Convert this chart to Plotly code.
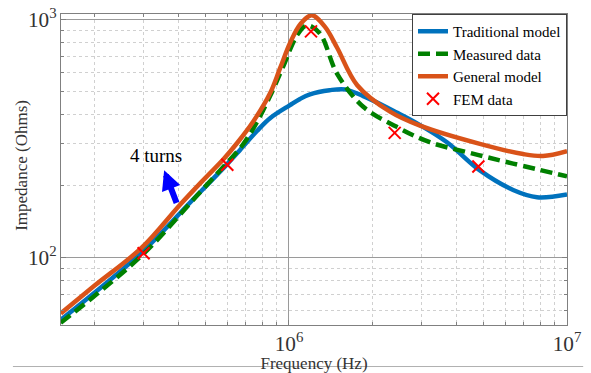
import plotly.graph_objects as go

# Data
trad_f = [1.51e5, 2.96e5, 4.41e5, 5.98e5, 6.67e5, 7.67e5, 8.55e5, 1.008e6, 1.096e6, 1.19e6, 1.40e6, 1.59e6, 1.85e6, 2.44e6, 2.88e6, 3.70e6, 4.86e6, 6.4e6, 7.8e6, 1.0e7]
trad_z = [54.5, 105, 170, 246, 283, 340, 385, 437, 464, 485, 505, 509, 477, 407, 367, 305, 232, 192, 179, 184]

meas_f = [1.51e5, 2.96e5, 4.67e5, 5.80e5, 6.84e5, 7.67e5, 8.55e5, 9.51e5, 1.07e6, 1.16e6, 1.29e6, 1.49e6, 1.85e6, 2.44e6, 3.21e6, 4.48e6, 6.4e6, 1.0e7]
meas_z = [53, 102, 182, 240, 299, 371, 477, 632, 861, 946, 877, 592, 430, 354, 305, 275, 248, 219]

gen_f = [1.51e5, 2.0e5, 2.96e5, 4.05e5, 4.91e5, 5.80e5, 6.50e5, 7.43e5, 8.55e5, 9.29e5, 1.01e6, 1.10e6, 1.21e6, 1.35e6, 1.49e6, 1.76e6, 2.31e6, 2.96e6, 4.86e6, 6.95e6, 8.2e6, 1.0e7]
gen_z = [58, 76, 110, 166, 211, 258, 302, 372, 490, 625, 800, 960, 1045, 930, 762, 530, 410, 358, 300, 272, 267, 280]

fem_f = [3e5, 6e5, 1.2e6, 2.4e6, 4.8e6]
fem_z = [104, 245, 893, 334, 241]

FONT = "Liberation Serif, Times New Roman, serif"

fig = go.Figure()
fig.add_trace(go.Scatter(x=trad_f, y=trad_z, mode="lines", name="Traditional model",
                         line=dict(color="#0072BD", width=4.5, shape="spline", smoothing=1.0)))
fig.add_trace(go.Scatter(x=meas_f, y=meas_z, mode="lines", name="Measured data",
                         line=dict(color="#008000", width=4.5, dash="12px,6px", shape="spline", smoothing=1.0)))
fig.add_trace(go.Scatter(x=gen_f, y=gen_z, mode="lines", name="General model",
                         line=dict(color="#D95319", width=4.5, shape="spline", smoothing=1.0)))
fig.add_trace(go.Scatter(x=fem_f, y=fem_z, mode="markers", name="FEM data",
                         marker=dict(symbol="x-thin", size=12, line=dict(color="#FF0000", width=2), color="#FF0000")))

axis_common = dict(
    type="log", showline=True, linecolor="#808080", linewidth=1, mirror="ticks",
    ticks="inside", ticklen=5, tickcolor="#808080",
    showgrid=True, gridcolor="#9a9a9a", gridwidth=1,
    dtick=1, exponentformat="power", showexponent="all",
    tickfont=dict(family=FONT, size=17, color="#333333"),
    ticklabeloverflow="allow",
    zeroline=False,
    minor=dict(dtick="D1", showgrid=True, gridcolor="#d0d0d0", griddash="dot",
               ticks="inside", ticklen=3, tickcolor="#808080"),
)

fig.update_xaxes(**axis_common, range=[5.18, 7.0],
                 title=dict(text="Frequency (Hz)", font=dict(family=FONT, size=17, color="#333333"), standoff=0))
fig.update_yaxes(**axis_common, range=[1.715, 3.024])

# y-axis title placed as an annotation to match the reference position
fig.add_annotation(x=-0.077, y=0.512, xref="paper", yref="paper", text="Impedance (Ohms)",
                   textangle=-90, showarrow=False, xanchor="center", yanchor="middle",
                   font=dict(family=FONT, size=17, color="#333333"))

fig.add_annotation(x=5.551, y=2.366, xref="x", yref="y", text="", showarrow=True,
                   ax=13, ay=34, arrowhead=2, arrowsize=0.65, arrowwidth=6, arrowcolor="#0000FF")
fig.add_annotation(x=5.522, y=2.427, xref="x", yref="y", text="4 turns", showarrow=False,
                   font=dict(family=FONT, size=19, color="#000000"))

fig.add_shape(type="line", xref="paper", yref="paper", x0=-0.095, x1=1.032, y0=-0.1335, y1=-0.1335,
              line=dict(color="#b0b0b0", width=1))

fig.update_layout(
    width=591, height=373,
    margin=dict(l=61, r=24, t=5, b=46),
    paper_bgcolor="white", plot_bgcolor="white",
    font=dict(family=FONT, size=17, color="#000000"),
    legend=dict(x=1, y=1, xanchor="right", yanchor="top", bgcolor="white",
                bordercolor="#404040", borderwidth=1, itemwidth=30,
                font=dict(family=FONT, size=15, color="#000000"),
                tracegroupgap=0),
    showlegend=True,
)

fig.write_html("out.html")
